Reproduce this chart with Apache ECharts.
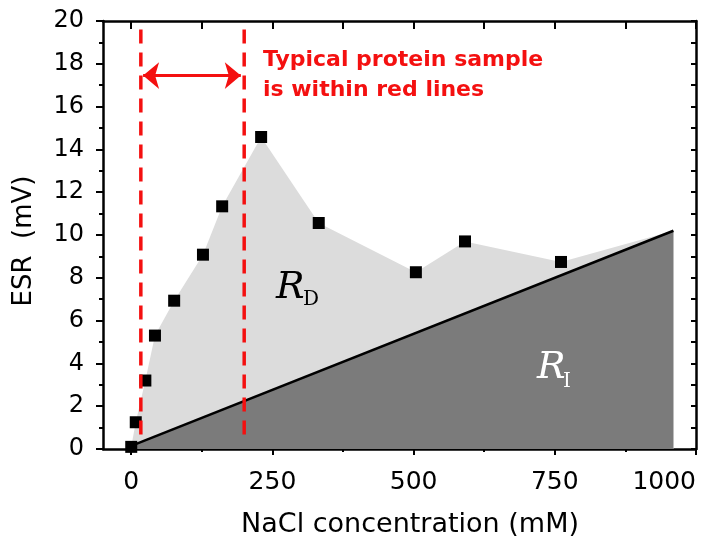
<!DOCTYPE html>
<html>
<head>
<meta charset="utf-8">
<title>ESR vs NaCl</title>
<script src="https://cdn.jsdelivr.net/npm/echarts@6/dist/echarts.min.js"></script>
<style>
html, body { margin: 0; padding: 0; background: #fff; }
#chart { width: 706px; height: 539px; }
</style>
</head>
<body>
<div id="chart"></div>
<script>
// measured points: NaCl (mM) and ESR (mV)
var concentration = [0, 8, 25, 42, 76, 127, 161, 230, 332, 504, 591, 761];
var esr = [0.1, 1.25, 3.2, 5.3, 6.93, 9.08, 11.34, 14.58, 10.56, 8.26, 9.7, 8.74];
// R_I line (start / end)
var riConc = [0, 960];
var riEsr = [0.15, 10.2];
// red bounds of a typical protein sample
var sampleBounds = [17, 200];
var boundEsr = [19.6, 0.3];
var arrowConc = [21, 194];
var arrowEsr = 17.45;
// ticks
var xMajor = [0, 250, 500, 750, 1000];
var xMinor = [125, 375, 625, 875];

var points = concentration.map(function (c, i) { return [c, esr[i]]; });
var envelope = points.concat([[riConc[1], riEsr[1]]]);
var riData = riConc.map(function (c, i) { return [c, riEsr[i]]; });
var xAll = xMajor.concat(xMinor).sort(function (a, b) { return a - b; });

var chart = echarts.init(document.getElementById('chart'));
var font = 'DejaVu Sans';
var axisLine = { show: true, onZero: false, lineStyle: { color: '#000', width: 2.5 } };

var boundSeries = sampleBounds.map(function (b) {
    return {
        type: 'line',
        data: [[b, boundEsr[0]], [b, boundEsr[1]]],
        showSymbol: false,
        symbol: 'none',
        lineStyle: { color: '#f41010', width: 3.5, type: [14, 9] },
        z: 4
    };
});

var option = {
    animation: false,
    backgroundColor: '#fff',
    grid: { left: 103, right: 10, top: 21, bottom: 90, outerBoundsMode: 'none', containLabel: false },
    xAxis: [
        {
            type: 'value', position: 'bottom', min: -50, max: 1000,
            axisLine: axisLine,
            axisTick: { show: true, customValues: xMajor, length: 6, lineStyle: { color: '#000', width: 2 } },
            axisLabel: {
                customValues: xMajor, fontSize: 25, color: '#000', fontFamily: font, margin: 21,
                alignMaxLabel: 'right',
                formatter: function (v) { return String(v); }
            },
            splitLine: { show: false },
            name: 'NaCl concentration (mM)',
            nameLocation: 'middle',
            nameGap: 62,
            nameTextStyle: { fontSize: 27, color: '#000', fontFamily: font, padding: [0, 0, 0, 21] }
        },
        {
            type: 'value', position: 'bottom', min: -50, max: 1000,
            axisLine: { show: false },
            axisTick: { show: true, customValues: xMinor, length: 3, lineStyle: { color: '#000', width: 2 } },
            axisLabel: { show: false },
            splitLine: { show: false }
        },
        {
            type: 'value', position: 'top', min: -50, max: 1000,
            axisLine: axisLine,
            axisTick: { show: true, inside: true, customValues: xAll, length: 8, lineStyle: { color: '#000', width: 2 } },
            axisLabel: { show: false },
            splitLine: { show: false }
        }
    ],
    yAxis: [
        {
            type: 'value', position: 'left', min: 0, max: 20, interval: 2,
            axisLine: axisLine,
            axisTick: { show: true, length: 7, lineStyle: { color: '#000', width: 2 } },
            minorTick: { show: true, splitNumber: 2, length: 4, lineStyle: { color: '#000', width: 2 } },
            axisLabel: { fontSize: 24, color: '#000', fontFamily: font, margin: 19 },
            splitLine: { show: false },
            minorSplitLine: { show: false },
            name: 'ESR  (mV)',
            nameLocation: 'middle',
            nameRotate: 90,
            nameGap: 66,
            nameTextStyle: { fontSize: 26, color: '#000', fontFamily: font, padding: [0, 12, 0, 0] }
        },
        {
            type: 'value', position: 'right', min: 0, max: 20, interval: 1,
            axisLine: axisLine,
            axisTick: { show: true, inside: true, length: 5, lineStyle: { color: '#000', width: 2 } },
            axisLabel: { show: false },
            splitLine: { show: false }
        }
    ],
    series: [
        {
            // R_D region
            type: 'line',
            data: envelope,
            symbol: 'none',
            lineStyle: { width: 0 },
            areaStyle: { color: '#dcdcdc', opacity: 1 },
            z: 1
        },
        {
            // R_I region
            type: 'line',
            data: riData,
            symbol: 'none',
            lineStyle: { color: '#000', width: 2.5 },
            areaStyle: { color: '#7b7b7b', opacity: 1 },
            z: 2
        },
        {
            type: 'scatter',
            data: points,
            symbol: 'rect',
            symbolSize: 12,
            itemStyle: { color: '#000', opacity: 1 },
            z: 3
        }
    ].concat(boundSeries).concat([
        {
            // double arrow between the red lines
            type: 'line',
            data: [],
            markLine: {
                silent: true,
                symbol: ['arrow', 'arrow'],
                symbolSize: [20, 16],
                label: { show: false },
                lineStyle: { color: '#f41010', width: 3, type: 'solid' },
                data: [[{ coord: [arrowConc[0], arrowEsr] }, { coord: [arrowConc[1], arrowEsr] }]]
            },
            z: 5
        }
    ]),
    graphic: [
        {
            type: 'text', x: 263, y: 45,
            style: {
                text: 'Typical protein sample\nis within red lines',
                font: 'bold 22px "DejaVu Sans"', fill: '#f41010',
                lineHeight: 30, verticalAlign: 'top'
            },
            z: 10
        },
        { type: 'text', x: 276, y: 288.6, style: { text: 'R', font: 'italic 38px "DejaVu Serif"', fill: '#000', verticalAlign: 'middle' }, z: 10 },
        { type: 'text', x: 303, y: 300, style: { text: 'D', font: '20px "DejaVu Serif"', fill: '#000', verticalAlign: 'middle' }, z: 10 },
        { type: 'text', x: 537, y: 368.6, style: { text: 'R', font: 'italic 38px "DejaVu Serif"', fill: '#fff', verticalAlign: 'middle' }, z: 10 },
        { type: 'text', x: 563, y: 381.5, style: { text: 'I', font: '20px "DejaVu Serif"', fill: '#fff', verticalAlign: 'middle' }, z: 10 }
    ]
};

chart.setOption(option);
window.addEventListener('resize', function () { chart.resize(); });
</script>
</body>
</html>
